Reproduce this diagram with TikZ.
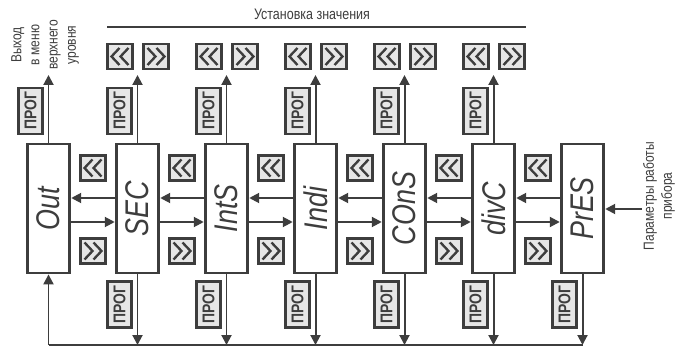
\documentclass[tikz,border=0pt]{standalone}
\usepackage{fontspec}
\setmainfont[FakeStretch=0.82]{Liberation Sans}
\usetikzlibrary{arrows.meta,calc}
\definecolor{ink}{RGB}{61,61,61}
\definecolor{keygray}{RGB}{230,230,230}

\begin{document}
\begin{tikzpicture}[x=0.03cm,y=-0.03cm,
  blk/.style={draw=ink,line width=2.4pt,fill=white,minimum width=1.28cm,minimum height=3.87cm,inner sep=0pt,font=\fontsize{28}{30}\selectfont\itshape,text=ink},
  key/.style={draw=ink,line width=2pt,fill=keygray,minimum size=0.75cm,inner sep=0pt},
  lkey/.style={key,path picture={\foreach \d in {-4.5,4.5} \draw[ink,line width=2pt] ($(path picture bounding box.center)+(\d+4,-8.5)$) -- ++(-8,8.5) -- ++(8,8.5);}},
  rkey/.style={key,path picture={\foreach \d in {-4.5,4.5} \draw[ink,line width=2pt] ($(path picture bounding box.center)+(\d-4,-8.5)$) -- ++(8,8.5) -- ++(-8,8.5);}},
  prg/.style={draw=ink,line width=2pt,fill=keygray,minimum width=0.72cm,minimum height=1.38cm,inner sep=0pt,font=\fontsize{14.5}{16}\selectfont\bfseries,text=ink},
  arr/.style={ink,line width=1.7pt,-{Triangle[length=8.5pt,width=8.5pt]}},
  lbl/.style={font=\fontsize{12.5}{15.5}\selectfont,text=ink,align=center}]
\useasboundingbox (0,0) rectangle (679,347);
% main blocks
\foreach \i/\name in {0/Out,1/SEC,2/IntS,3/Indi,4/COnS,5/divC,6/PrES}
  \node[blk] (blk\i) at (48.5+89*\i,208.5) {\rotatebox{90}{\name}};
% links between blocks
\foreach \i [count=\j from 1] in {0,...,5}{
  \draw[arr] ($(blk\j.west)+(0,-10.5)$) -- ($(blk\i.east)+(0,-10.5)$);
  \draw[arr] ($(blk\i.east)+(0,13.5)$) -- ($(blk\j.west)+(0,13.5)$);
  \node[lkey] (bk\i) at (93+89*\i,168) {};
  \node[rkey] (fw\i) at (93+89*\i,251) {};
}
% upward exits
\foreach \i in {0,...,5}{
  \coordinate (up\i) at (48.5+89*\i,75);
  \draw[arr] (blk\i.north) -- (up\i);
  \node[prg] (pu\i) at (30.5+89*\i,111) {\rotatebox{90}{ПРОГ}};
}
\foreach \i in {1,...,5}{
  \node[lkey] (tl\i) at (31+89*\i,56.5) {};
  \node[rkey] (tr\i) at (67+89*\i,56.5) {};
}
\draw[ink,line width=1.5pt] (107,27) -- (526,27);
\node[lbl,font=\fontsize{13}{15}\selectfont] (setv) at (312,14) {Установка значения};
\node[lbl,rotate=90] (exit) at (45,45) {Выход\\в меню\\верхнего\\уровня};
% downward returns
\foreach \i in {1,...,6}{
  \coordinate (dn\i) at (48.5+89*\i,345);
  \draw[arr] (blk\i.south) -- (dn\i);
  \node[prg] (pd\i) at (30.5+89*\i,304.5) {\rotatebox{90}{ПРОГ}};
}
\coordinate (dn0) at (48.5,345);
\draw[ink,line width=1.7pt] (dn0) -- (dn6);
\draw[arr] (dn0) -- (blk0.south);
% input
\coordinate (inp) at (642,209);
\draw[arr] (inp) -- (blk6.east |- inp);
\node[lbl,rotate=90] (param) at (659,196) {Параметры работы\\прибора};
\end{tikzpicture}
\end{document}
